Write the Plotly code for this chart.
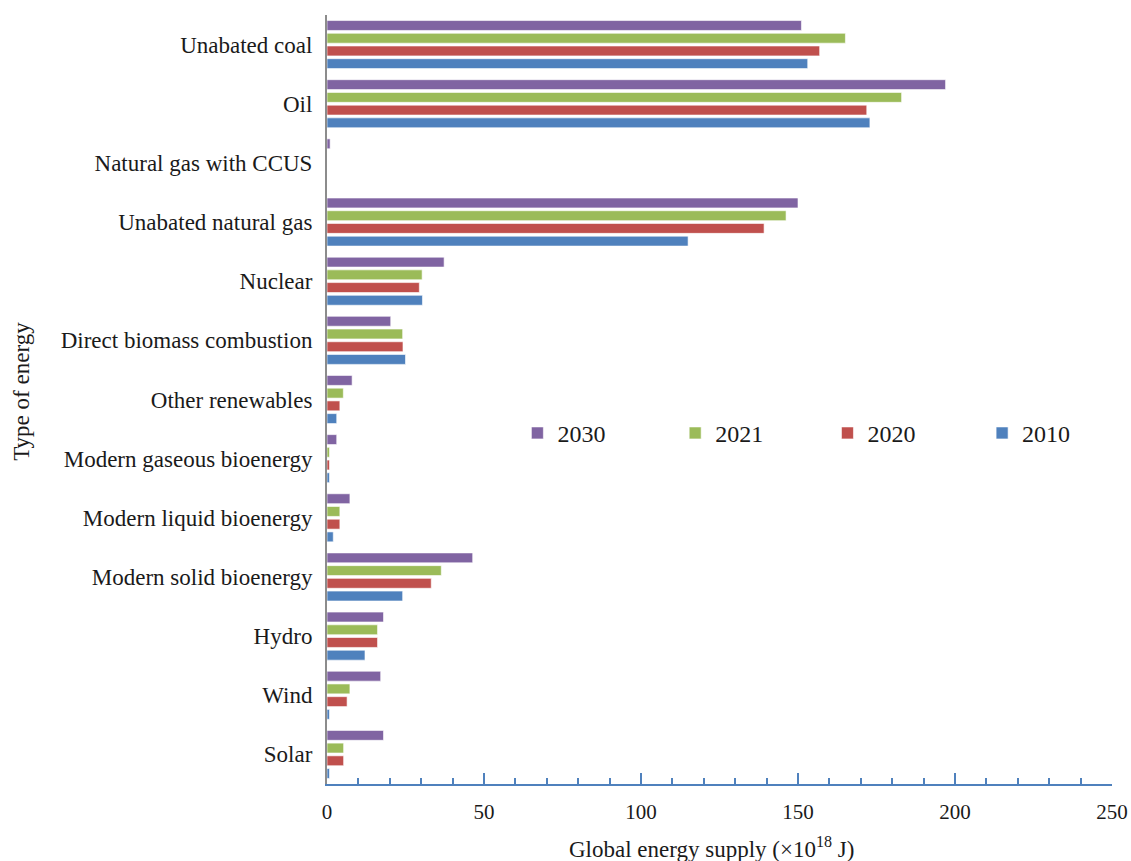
import plotly.graph_objects as go

categories = ["Unabated coal", "Oil", "Natural gas with CCUS", "Unabated natural gas",
              "Nuclear", "Direct biomass combustion", "Other renewables",
              "Modern gaseous bioenergy", "Modern liquid bioenergy",
              "Modern solid bioenergy", "Hydro", "Wind", "Solar"]

v2030 = [151.1, 197.0, 1.0, 150.0, 37.3, 20.3, 8.0, 3.1, 7.3, 46.4, 18.0, 17.1, 18.0]
v2021 = [165.1, 183.0, 0.0, 146.2, 30.3, 24.1, 5.2, 0.8, 4.1, 36.4, 16.1, 7.3, 5.3]
v2020 = [156.9, 171.9, 0.0, 139.2, 29.4, 24.2, 4.1, 0.8, 4.1, 33.2, 16.1, 6.4, 5.3]
v2010 = [153.1, 172.9, 0.0, 115.0, 30.4, 25.0, 3.1, 0.8, 2.0, 24.1, 12.1, 0.8, 0.8]

series = [("2030", v2030, "#8064A2"), ("2021", v2021, "#9BBB59"),
          ("2020", v2020, "#C0504D"), ("2010", v2010, "#4F81BD")]
# right edges of the legend boxes (paper coordinates)
legend_right = [0.361, 0.562, 0.756, 0.953]

font_family = "Liberation Serif"

fig = go.Figure()
legend_defs = {}
for i, (name, vals, color) in enumerate(series):
    lg = "legend" if i == 0 else f"legend{i + 1}"
    fig.add_trace(go.Bar(
        y=categories, x=vals, name=name, orientation="h", legend=lg, showlegend=True,
        marker=dict(color=color, line=dict(color="rgba(255,255,255,0.6)", width=1)),
    ))
    legend_defs[lg] = dict(x=legend_right[i], y=0.456, xanchor="right", yanchor="middle",
                           font=dict(size=24, family=font_family, color="#1a1a1a"),
                           bgcolor="rgba(0,0,0,0)", itemwidth=30)

fig.update_layout(
    width=1131, height=861,
    margin=dict(l=327, r=19, t=15, b=77, autoexpand=False),
    paper_bgcolor="white", plot_bgcolor="white",
    showlegend=True,
    barmode="group", bargap=0.14, bargroupgap=0.22,
    font=dict(family=font_family, size=23, color="#1a1a1a"),
    xaxis=dict(range=[0, 250], dtick=50, tick0=0, showgrid=False, zeroline=False,
               showline=True, linecolor="#4F81BD", linewidth=2,
               ticks="inside", ticklen=11, tickcolor="#4F81BD", tickwidth=1.5,
               minor=dict(dtick=10, ticks="inside", ticklen=6, tickcolor="#4F81BD", tickwidth=1.5),
               tickfont=dict(size=21, family=font_family), ticklabelstandoff=8,
               automargin=False, fixedrange=True),
    yaxis=dict(autorange="reversed", showgrid=False, zeroline=False,
               showline=True, linecolor="#8c8c8c", linewidth=2,
               ticks="", tickfont=dict(size=23, family=font_family),
               ticklabelstandoff=8, automargin=False, fixedrange=True),
    annotations=[
        dict(text="Global energy supply (×10<sup>18</sup> J)", xref="paper", yref="paper",
             x=0.49, y=-0.0832, xanchor="center", yanchor="middle", showarrow=False,
             font=dict(size=23, family=font_family)),
        dict(text="Type of energy", xref="paper", yref="paper", x=-0.3885, y=0.51,
             xanchor="center", yanchor="middle", textangle=-90, showarrow=False,
             font=dict(size=23, family=font_family)),
    ],
    **legend_defs,
)

fig.write_html("out.html")
